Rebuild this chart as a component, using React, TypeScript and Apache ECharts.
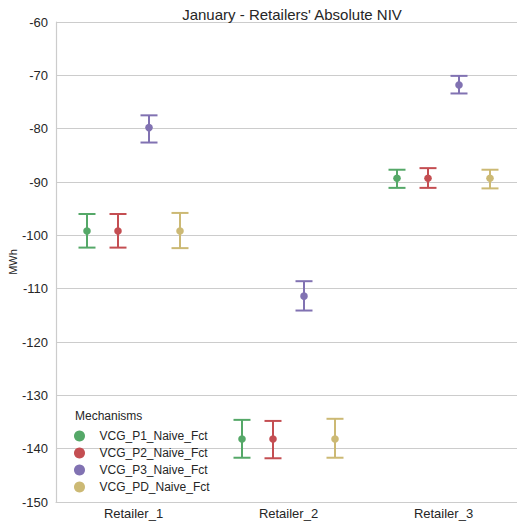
import React, { useEffect, useRef } from "react";
import * as echarts from "echarts";

const categories = ["Retailer_1", "Retailer_2", "Retailer_3"];
const mechanisms = ["VCG_P1_Naive_Fct", "VCG_P2_Naive_Fct", "VCG_P3_Naive_Fct", "VCG_PD_Naive_Fct"];
const colors = ["#55A868", "#C44E52", "#8172B2", "#CCB974"];

// mean, lower, upper per category for each mechanism
const p1Mean = [-99.2, -138.2, -89.3];
const p1Low = [-102.3, -141.7, -91.1];
const p1High = [-96.0, -134.6, -87.7];

const p2Mean = [-99.2, -138.2, -89.3];
const p2Low = [-102.3, -141.8, -91.1];
const p2High = [-96.0, -134.8, -87.4];

const p3Mean = [-79.8, -111.4, -71.8];
const p3Low = [-82.6, -114.1, -73.4];
const p3High = [-77.5, -108.6, -70.1];

const pdMean = [-99.2, -138.2, -89.3];
const pdLow = [-102.4, -141.7, -91.2];
const pdHigh = [-95.8, -134.4, -87.7];

const yTicks = { min: -150, max: -60, interval: 10 };

const seriesData = [
  [p1Mean, p1Low, p1High],
  [p2Mean, p2Low, p2High],
  [p3Mean, p3Low, p3High],
  [pdMean, pdLow, pdHigh],
];
const dodge = [-0.3, -0.1, 0.1, 0.3];

export default function App() {
  const ref = useRef<HTMLDivElement>(null);
  useEffect(() => {
    if (!ref.current) return;
    const chart = echarts.init(ref.current, undefined, { renderer: "svg" });
    const series = mechanisms.map((name, si) => {
      const [mean, low, high] = seriesData[si];
      const color = colors[si];
      return {
        type: "custom",
        name,
        itemStyle: { color },
        data: categories.map((c, i) => [i, mean[i], low[i], high[i]]),
        encode: { x: 0, y: [1, 2, 3] },
        renderItem: (params: any, api: any) => {
          const ci = api.value(0);
          const band = api.size([1, 0])[0];
          const off = dodge[si] * band;
          const pm = api.coord([ci, api.value(1)]);
          const pl = api.coord([ci, api.value(2)]);
          const ph = api.coord([ci, api.value(3)]);
          const x = pm[0] + off;
          const cap = 8.5;
          const ls = { stroke: color, lineWidth: 2 };
          return {
            type: "group",
            children: [
              { type: "line", shape: { x1: x, y1: pl[1], x2: x, y2: ph[1] }, style: ls },
              { type: "line", shape: { x1: x - cap, y1: pl[1], x2: x + cap, y2: pl[1] }, style: ls },
              { type: "line", shape: { x1: x - cap, y1: ph[1], x2: x + cap, y2: ph[1] }, style: ls },
              { type: "circle", shape: { cx: x, cy: pm[1], r: 3.8 }, style: { fill: color } },
            ],
          };
        },
      };
    });
    chart.setOption({
      animation: false,
      backgroundColor: "#ffffff",
      textStyle: { fontFamily: "Liberation Sans, Arial, sans-serif" },
      title: {
        text: "January - Retailers' Absolute NIV",
        left: 287,
        top: 2,
        textAlign: "center",
        textStyle: { fontSize: 15, fontWeight: "normal", color: "#262626", fontFamily: "Liberation Sans, Arial, sans-serif" },
      },
      grid: { left: 56, top: 22, width: 465, height: 480, containLabel: false, outerBoundsMode: "none" },
      xAxis: {
        type: "category",
        data: categories,
        boundaryGap: true,
        axisLine: { show: true, lineStyle: { color: "#cccccc", width: 1.2 } },
        axisTick: { show: false },
        axisLabel: { color: "#262626", fontSize: 13, margin: 5 },
        splitLine: { show: false },
      },
      yAxis: {
        type: "value",
        min: yTicks.min,
        max: yTicks.max,
        interval: yTicks.interval,
        axisLine: { show: true, lineStyle: { color: "#cccccc", width: 1.2 } },
        axisTick: { show: false },
        axisLabel: { color: "#262626", fontSize: 13, margin: 8 },
        splitLine: { show: true, lineStyle: { color: "#cccccc", width: 1 } },
      },
      legend: {
        orient: "vertical",
        left: 74,
        top: 429,
        padding: 0,
        itemGap: 3,
        itemWidth: 30,
        itemHeight: 11,
        icon: "circle",
        data: mechanisms,
        textStyle: { color: "#262626", fontSize: 12, lineHeight: 14 },
      },
      graphic: [
        {
          type: "text",
          left: 75,
          top: 410,
          style: { text: "Mechanisms", fontSize: 12, fill: "#262626", fontFamily: "Liberation Sans, Arial, sans-serif" },
        },
        {
          type: "text",
          x: 13,
          y: 262,
          rotation: Math.PI / 2,
          style: {
            text: "MWh",
            fontSize: 11,
            fill: "#262626",
            align: "center",
            verticalAlign: "middle",
            fontFamily: "Liberation Sans, Arial, sans-serif",
          },
        },
      ],
      series,
    });
    return () => chart.dispose();
  }, []);
  return <div ref={ref} style={{ position: "fixed", left: 0, top: 0, width: 517, height: 521 }} />;
}
